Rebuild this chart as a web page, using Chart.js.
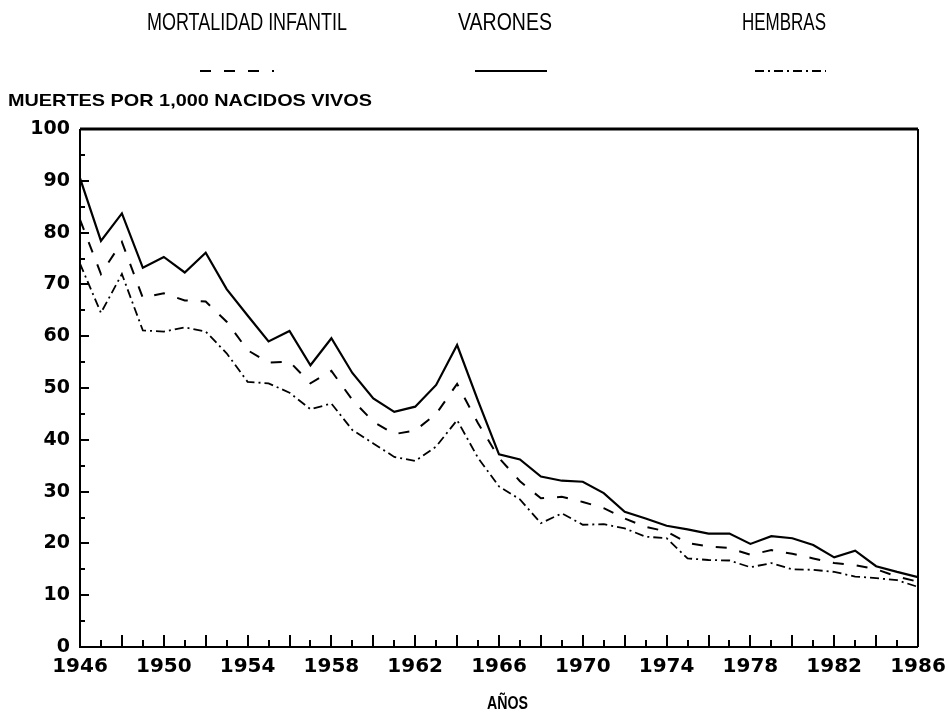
<!DOCTYPE html>
<html>
<head>
<meta charset="utf-8">
<script src="https://cdn.jsdelivr.net/npm/chart.js@4.4.1/dist/chart.umd.min.js"></script>
<style>
html,body{margin:0;padding:0;background:#fff;}
#wrap{position:relative;width:949px;height:715px;}
</style>
</head>
<body>
<div id="wrap"><canvas id="c" width="949" height="715"></canvas></div>
<script>
const years = [1946,1947,1948,1949,1950,1951,1952,1953,1954,1955,1956,1957,1958,1959,1960,1961,1962,1963,1964,1965,1966,1967,1968,1969,1970,1971,1972,1973,1974,1975,1976,1977,1978,1979,1980,1981,1982,1983,1984,1985,1986];
const varones = [90.5,78.4,83.7,73.2,75.3,72.3,76.1,69.1,64,59,61,54.4,59.6,52.9,48,45.4,46.4,50.6,58.3,47.5,37.2,36.2,32.9,32.1,31.9,29.7,26.1,24.8,23.4,22.7,21.9,21.9,19.9,21.4,21,19.7,17.3,18.6,15.6,14.5,13.5];
const mortalidadInfantil = [82.5,72,78.2,67.4,68.3,66.9,66.7,62.8,57.3,54.9,55.1,50.9,53.3,47.7,43.5,41.1,41.8,45,50.8,43.2,36.5,32,28.7,29,28,26.8,24.8,23.2,22.3,20.1,19.4,19.1,17.8,18.7,18,17.1,16.2,15.8,15,13.6,12.6];
const hembras = [74,64.5,72,61.1,60.9,61.7,60.9,56.7,51.2,50.9,49.1,45.9,47,41.9,39.3,36.7,35.9,38.7,43.8,36.5,31,28.5,23.9,25.8,23.6,23.7,22.9,21.3,21,17.1,16.8,16.7,15.4,16.2,15,14.9,14.5,13.6,13.3,12.9,11.6];
const seriesNames = ["MORTALIDAD INFANTIL","VARONES","HEMBRAS"];
const yTitle = "MUERTES POR 1,000 NACIDOS VIVOS";
const xTitle = "AÑOS";

const pts = arr => years.map((y,i)=>({x:y,y:arr[i]}));

const legendPos = [{cx:247,w:200},{cx:505,w:94},{cx:784,w:84}];
const samplePos = [{x1:200,x2:274},{x1:475,x2:547},{x1:755,x2:826}];

function fitText(ctx, text, x, y, width){
  // draws text with its left edge at x, horizontally scaled to the given width
  const w = ctx.measureText(text).width;
  ctx.save();
  ctx.translate(x, y);
  ctx.scale(width / w, 1);
  ctx.textAlign = 'left';
  ctx.fillText(text, 0, 0);
  ctx.restore();
}

const overlay = {
  id:'overlay',
  afterDraw(chart){
    const ctx = chart.ctx;
    const ca = chart.chartArea;
    const xs = chart.scales.x, ys = chart.scales.y;
    ctx.save();
    ctx.strokeStyle='#000';
    ctx.lineWidth=3;
    ctx.beginPath();ctx.moveTo(ca.left,ca.top);ctx.lineTo(ca.right,ca.top);ctx.stroke();
    ctx.lineWidth=2;
    ctx.beginPath();ctx.moveTo(ca.right,ca.top);ctx.lineTo(ca.right,ca.bottom);ctx.stroke();
    ctx.beginPath();ctx.moveTo(ca.left,ca.top);ctx.lineTo(ca.left,ca.bottom);ctx.lineTo(ca.right,ca.bottom);ctx.stroke();
    for(let yr=years[0]+1; yr<years[years.length-1]; yr++){
      const px = Math.round(xs.getPixelForValue(yr));
      const len = (yr-years[0])%2===0 ? 12 : 7;
      ctx.beginPath();ctx.moveTo(px,ca.bottom);ctx.lineTo(px,ca.bottom-len);ctx.stroke();
    }
    for(let v=5; v<100; v+=5){
      const py = Math.round(ys.getPixelForValue(v));
      const len = v%10===0 ? 9 : 5;
      ctx.beginPath();ctx.moveTo(ca.left,py);ctx.lineTo(ca.left+len,py);ctx.stroke();
    }
    ctx.fillStyle='#000';
    ctx.textBaseline='middle';
    ctx.font='24px "Liberation Sans", Arial, sans-serif';
    seriesNames.forEach((n,i)=>{
      fitText(ctx, n, legendPos[i].cx - legendPos[i].w/2, 23, legendPos[i].w);
      const ds = chart.data.datasets[i];
      ctx.setLineDash(ds.borderDash||[]);
      ctx.lineWidth = ds.borderWidth;
      ctx.beginPath();ctx.moveTo(samplePos[i].x1,71);ctx.lineTo(samplePos[i].x2,71);ctx.stroke();
    });
    ctx.setLineDash([]);
    ctx.font='bold 17px "Liberation Sans", Arial, sans-serif';
    fitText(ctx, yTitle, 8, 101, 364);
    ctx.font='bold 18px "Liberation Sans", Arial, sans-serif';
    fitText(ctx, xTitle, 487, 704, 41);
    ctx.restore();
  }
};

new Chart(document.getElementById('c'), {
  type:'line',
  data:{
    datasets:[
      {label:seriesNames[0], data:pts(mortalidadInfantil), borderColor:'#000', borderWidth:2, borderDash:[11,13], pointRadius:0, tension:0, fill:false},
      {label:seriesNames[1], data:pts(varones), borderColor:'#000', borderWidth:2.2, borderDash:[], pointRadius:0, tension:0, fill:false},
      {label:seriesNames[2], data:pts(hembras), borderColor:'#000', borderWidth:1.8, borderDash:[9,4,2,4], pointRadius:0, tension:0, fill:false}
    ]
  },
  options:{
    responsive:false,
    animation:false,
    events:[],
    layout:{padding:{top:129,right:31,left:0,bottom:0}},
    plugins:{legend:{display:false},tooltip:{enabled:false},title:{display:false}},
    scales:{
      x:{type:'linear',min:1946,max:1986,
         grid:{display:false,drawTicks:false},
         border:{display:false},
         ticks:{stepSize:4,padding:8,color:'#000',maxRotation:0,autoSkip:false,
                font:{family:'"DejaVu Sans", sans-serif',size:20,weight:'bold'},
                callback:v=>String(v)},
         afterFit:s=>{s.height=68;s.paddingLeft=0;s.paddingRight=0;}},
      y:{min:0,max:100,
         grid:{display:false,drawTicks:false},
         border:{display:false},
         ticks:{stepSize:10,padding:10,color:'#000',
                font:{family:'"DejaVu Sans", sans-serif',size:19,weight:'bold'},
                callback:v=>String(v)},
         afterFit:s=>{s.width=80;s.paddingTop=0;s.paddingBottom=0;}}
    }
  },
  plugins:[overlay]
});
</script>
</body>
</html>
